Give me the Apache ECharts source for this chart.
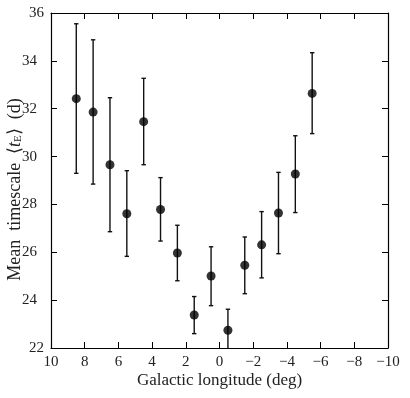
<!DOCTYPE html>
<html>
<head>
<meta charset="utf-8">
<script src="https://cdn.jsdelivr.net/npm/echarts@6/dist/echarts.min.js"></script>
<style>
  html, body { margin: 0; padding: 0; background: #fff; }
  #chart { width: 410px; height: 398px; }
</style>
</head>
<body>
<div id="chart"></div>
<script>
  // galactic longitude bin centres (deg)
  var longitude = [8.5, 7.5, 6.5, 5.5, 4.5, 3.5, 2.5, 1.5, 0.5, -0.5, -1.5, -2.5, -3.5, -4.5, -5.5];
  // mean timescale <tE> (d)
  var meanTe = [32.42, 31.86, 29.66, 27.61, 31.46, 27.79, 25.97, 23.38, 25.01, 22.74, 25.46, 26.31, 27.64, 29.27, 32.64];
  var errHigh = [35.55, 34.88, 32.46, 29.41, 33.27, 29.12, 27.13, 24.15, 26.23, 23.62, 26.64, 27.70, 29.34, 30.87, 34.34];
  var errLow = [29.30, 28.85, 26.86, 25.83, 29.66, 26.47, 24.81, 22.60, 23.77, 21.80, 24.27, 24.93, 25.94, 27.66, 30.96];
  var xTicks = [10, 8, 6, 4, 2, 0, -2, -4, -6, -8, -10];
  var yTicks = [22, 24, 26, 28, 30, 32, 34, 36];

  var font = 'Liberation Serif';
  var points = longitude.map(function (x, i) { return [x, meanTe[i]]; });
  var bars = longitude.map(function (x, i) { return [x, errLow[i], errHigh[i]]; });

  function minusLabel (v) {
    return String(v).replace('-', '\u2212');
  }

  // end labels on the y axis sit closer to the axis than the inner ones
  function yLabel (v) {
    if (v === yTicks[0]) return '{lo|' + v + '}';
    if (v === yTicks[yTicks.length - 1]) return '{hi|' + v + '}';
    return '{mid|' + v + '}';
  }

  var chart = echarts.init(document.getElementById('chart'));

  var tickStyle = { show: true, inside: true, length: 6, lineStyle: { color: '#000', width: 1 } };
  var lineStyle = { show: true, onZero: false, lineStyle: { color: '#000', width: 1.2 } };

  chart.setOption({
    animation: false,
    grid: { left: 51, right: 22, top: 13, bottom: 50, containLabel: false, outerBoundsMode: 'none' },
    xAxis: [
      {
        type: 'value', min: -10, max: 10, interval: 2, inverse: true, position: 'bottom',
        axisLine: lineStyle, axisTick: tickStyle, splitLine: { show: false },
        axisLabel: { color: '#222', fontFamily: font, fontSize: 15, margin: 7, formatter: minusLabel },
        name: 'Galactic longitude (deg)', nameLocation: 'middle', nameGap: 24, nameMoveOverlap: false,
        nameTextStyle: { color: '#222', fontFamily: font, fontSize: 17 }
      },
      {
        type: 'value', min: -10, max: 10, interval: 2, inverse: true, position: 'top',
        axisLine: lineStyle, axisTick: tickStyle, splitLine: { show: false },
        axisLabel: { show: false }
      }
    ],
    yAxis: [
      {
        type: 'value', min: 22, max: 36, interval: 2, position: 'left',
        axisLine: lineStyle, axisTick: tickStyle, splitLine: { show: false },
        axisLabel: {
          color: '#222', fontFamily: font, fontSize: 15, margin: 7, formatter: yLabel,
          rich: {
            mid: { color: '#222', fontFamily: font, fontSize: 15, padding: [0, 7, 0, 0] },
            hi: { color: '#222', fontFamily: font, fontSize: 15, padding: [0, 0, 0, 0] },
            lo: { color: '#222', fontFamily: font, fontSize: 15, padding: [0, 0, 0, 0] }
          }
        },
        name: '{n|Mean\u2002timescale\u2002\u27E8}{i|t}{s|E}{n|\u27E9\u2002(d)}', nameLocation: 'middle', nameGap: 27,
        nameMoveOverlap: false,
        nameTextStyle: {
          color: '#222', fontFamily: font, fontSize: 18, padding: [0, 18, 0, 0],
          rich: {
            n: { color: '#222', fontFamily: font, fontSize: 18 },
            i: { color: '#222', fontFamily: font, fontSize: 18, fontStyle: 'italic' },
            s: { color: '#222', fontFamily: font, fontSize: 11, padding: [7, 0, 0, 0] }
          }
        }
      },
      {
        type: 'value', min: 22, max: 36, interval: 2, position: 'right',
        axisLine: lineStyle, axisTick: tickStyle, splitLine: { show: false },
        axisLabel: { show: false }
      }
    ],
    series: [
      {
        type: 'custom',
        data: bars,
        clip: true,
        z: 2,
        renderItem: function (params, api) {
          var x = api.value(0);
          var lo = api.coord([x, api.value(1)]);
          var hi = api.coord([x, api.value(2)]);
          var cap = 2.2;
          var style = { stroke: '#111', lineWidth: 1.4 };
          return {
            type: 'group',
            children: [
              { type: 'line', shape: { x1: lo[0], y1: lo[1], x2: hi[0], y2: hi[1] }, style: style },
              { type: 'line', shape: { x1: hi[0] - cap, y1: hi[1], x2: hi[0] + cap, y2: hi[1] }, style: style },
              { type: 'line', shape: { x1: lo[0] - cap, y1: lo[1], x2: lo[0] + cap, y2: lo[1] }, style: style }
            ]
          };
        },
        encode: { x: 0, y: [1, 2] }
      },
      {
        type: 'scatter',
        data: points,
        symbol: 'circle',
        symbolSize: 9,
        itemStyle: { color: '#000' },
        z: 3
      }
    ]
  });
</script>
</body>
</html>
